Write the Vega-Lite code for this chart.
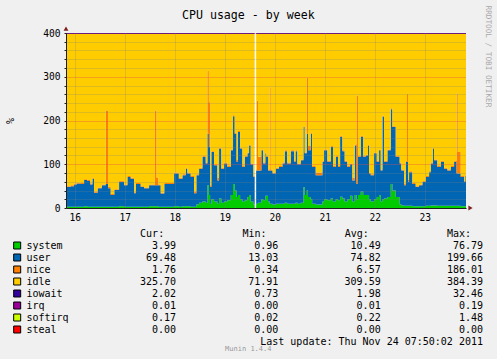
{
  "$schema": "https://vega.github.io/schema/vega-lite/v6.json",
  "autosize": {"type": "none"},
  "padding": {"left": 66, "top": 33, "right": 431, "bottom": 326},
  "background": "#F0F0F0",
  "bounds": "flush",
  "spacing": 25.5,
  "config": {"view": {"stroke": null}, "font": "DejaVu Sans Mono"},
  "datasets": {
    "cpu": [
      {"h":7.83,"system":3,"user":45,"nice":2,"idle":348,"iowait":2},
      {"h":10,"system":3,"user":47,"nice":2,"idle":346,"iowait":2},
      {"h":11.7,"system":3,"user":51,"nice":2,"idle":342,"iowait":2},
      {"h":13,"system":3,"user":53,"nice":2,"idle":340,"iowait":2},
      {"h":15,"system":3,"user":52,"nice":2,"idle":341,"iowait":2},
      {"h":16.5,"system":4,"user":60,"nice":2,"idle":332,"iowait":2},
      {"h":18,"system":3,"user":59,"nice":2,"idle":334,"iowait":2},
      {"h":19.5,"system":3,"user":51,"nice":2,"idle":342,"iowait":2},
      {"h":20.5,"system":3,"user":64,"nice":2,"idle":329,"iowait":2},
      {"h":21.3,"system":3,"user":32,"nice":3,"idle":360,"iowait":2},
      {"h":23,"system":3,"user":42,"nice":2,"idle":351,"iowait":2},
      {"h":25,"system":3,"user":49,"nice":2,"idle":344,"iowait":2},
      {"h":26.9,"system":3,"user":52,"nice":168,"idle":175,"iowait":2},
      {"h":28,"system":3,"user":42,"nice":4,"idle":349,"iowait":2},
      {"h":29.3,"system":3,"user":27,"nice":2,"idle":366,"iowait":2},
      {"h":31,"system":3,"user":38,"nice":2,"idle":355,"iowait":2},
      {"h":33.3,"system":4,"user":56,"nice":2,"idle":336,"iowait":2},
      {"h":35.7,"system":3,"user":49,"nice":2,"idle":344,"iowait":2},
      {"h":37.3,"system":3,"user":68,"nice":2,"idle":325,"iowait":2},
      {"h":38.9,"system":3,"user":64,"nice":2,"idle":329,"iowait":2},
      {"h":40.5,"system":3,"user":31,"nice":2,"idle":362,"iowait":2},
      {"h":41.3,"system":3,"user":52,"nice":2,"idle":341,"iowait":2},
      {"h":43.7,"system":3,"user":45,"nice":2,"idle":348,"iowait":2},
      {"h":45.3,"system":3,"user":42,"nice":2,"idle":351,"iowait":2},
      {"h":47.7,"system":4,"user":48,"nice":2,"idle":344,"iowait":2},
      {"h":50.5,"system":4,"user":48,"nice":171,"idle":175,"iowait":2},
      {"h":51.3,"system":4,"user":48,"nice":18,"idle":328,"iowait":2},
      {"h":52.2,"system":3,"user":49,"nice":2,"idle":344,"iowait":2},
      {"h":53.3,"system":3,"user":30,"nice":2,"idle":363,"iowait":2},
      {"h":55,"system":3,"user":52,"nice":2,"idle":341,"iowait":2},
      {"h":59.7,"system":4,"user":75,"nice":2,"idle":317,"iowait":2},
      {"h":62,"system":3,"user":64,"nice":2,"idle":329,"iowait":2},
      {"h":63.7,"system":4,"user":71,"nice":2,"idle":321,"iowait":2},
      {"h":65.3,"system":4,"user":86,"nice":2,"idle":306,"iowait":2},
      {"h":66.1,"system":4,"user":75,"nice":2,"idle":317,"iowait":2},
      {"h":67.7,"system":3,"user":68,"nice":2,"idle":325,"iowait":2},
      {"h":69.3,"system":3,"user":31,"nice":4,"idle":360,"iowait":2},
      {"h":70.4,"system":8,"user":67,"nice":2,"idle":321,"iowait":2},
      {"h":71.7,"system":12,"user":78,"nice":2,"idle":306,"iowait":2},
      {"h":73.3,"system":15,"user":102,"nice":2,"idle":279,"iowait":2},
      {"h":74.9,"system":12,"user":90,"nice":2,"idle":294,"iowait":2},
      {"h":75.7,"system":52,"user":118,"nice":144,"idle":84,"iowait":2},
      {"h":76.4,"system":30,"user":110,"nice":102,"idle":156,"iowait":2},
      {"h":77,"system":10,"user":38,"nice":4,"idle":346,"iowait":2},
      {"h":77.6,"system":20,"user":108,"nice":2,"idle":268,"iowait":2},
      {"h":78.9,"system":15,"user":83,"nice":2,"idle":298,"iowait":2},
      {"h":80.5,"system":10,"user":53,"nice":6,"idle":329,"iowait":2},
      {"h":81.3,"system":22,"user":114,"nice":2,"idle":260,"iowait":2},
      {"h":82.4,"system":12,"user":78,"nice":2,"idle":306,"iowait":2},
      {"h":83.7,"system":15,"user":87,"nice":2,"idle":294,"iowait":2},
      {"h":85.3,"system":18,"user":76,"nice":2,"idle":302,"iowait":2},
      {"h":86.9,"system":30,"user":102,"nice":2,"idle":264,"iowait":2},
      {"h":88,"system":55,"user":155,"nice":2,"idle":186,"iowait":2},
      {"h":88.8,"system":40,"user":130,"nice":2,"idle":226,"iowait":2},
      {"h":89.7,"system":25,"user":81,"nice":4,"idle":288,"iowait":2},
      {"h":90.4,"system":30,"user":144,"nice":2,"idle":222,"iowait":2},
      {"h":91.4,"system":20,"user":116,"nice":2,"idle":260,"iowait":2},
      {"h":92.5,"system":15,"user":79,"nice":2,"idle":302,"iowait":2},
      {"h":93.6,"system":18,"user":99,"nice":2,"idle":279,"iowait":2},
      {"h":94.9,"system":25,"user":100,"nice":2,"idle":271,"iowait":2},
      {"h":95.7,"system":30,"user":113,"nice":2,"idle":253,"iowait":2},
      {"h":96.5,"system":15,"user":85,"nice":2,"idle":296,"iowait":2},
      {"h":97.8,"system":8,"user":63,"nice":2,"idle":325,"iowait":2},
      {"h":99,"system":10,"user":76,"nice":2,"idle":310,"iowait":2},
      {"h":99.4,"system":10,"user":76,"nice":159,"idle":153,"iowait":2},
      {"h":100,"system":12,"user":74,"nice":31,"idle":281,"iowait":2},
      {"h":101.6,"system":20,"user":112,"nice":2,"idle":264,"iowait":2},
      {"h":102.5,"system":18,"user":84,"nice":2,"idle":294,"iowait":2},
      {"h":103.5,"system":28,"user":97,"nice":2,"idle":271,"iowait":2},
      {"h":104,"system":28,"user":89,"nice":2,"idle":279,"iowait":2},
      {"h":104.8,"system":15,"user":71,"nice":2,"idle":310,"iowait":2},
      {"h":105.6,"system":10,"user":76,"nice":190,"idle":122,"iowait":2},
      {"h":106.1,"system":10,"user":76,"nice":2,"idle":310,"iowait":2},
      {"h":107,"system":8,"user":71,"nice":2,"idle":317,"iowait":2},
      {"h":108.5,"system":10,"user":80,"nice":2,"idle":306,"iowait":2},
      {"h":110,"system":10,"user":84,"nice":2,"idle":302,"iowait":2},
      {"h":111.7,"system":10,"user":92,"nice":2,"idle":294,"iowait":2},
      {"h":112.8,"system":12,"user":118,"nice":2,"idle":266,"iowait":2},
      {"h":114,"system":10,"user":92,"nice":2,"idle":294,"iowait":2},
      {"h":115.7,"system":10,"user":120,"nice":2,"idle":266,"iowait":2},
      {"h":117.3,"system":10,"user":96,"nice":2,"idle":290,"iowait":2},
      {"h":118,"system":12,"user":118,"nice":2,"idle":266,"iowait":2},
      {"h":118.9,"system":10,"user":90,"nice":2,"idle":296,"iowait":2},
      {"h":120.5,"system":12,"user":97,"nice":2,"idle":287,"iowait":2},
      {"h":121.8,"system":48,"user":137,"nice":2,"idle":211,"iowait":2},
      {"h":122.4,"system":30,"user":95,"nice":2,"idle":271,"iowait":2},
      {"h":123.4,"system":40,"user":130,"nice":128,"idle":100,"iowait":2},
      {"h":124,"system":25,"user":107,"nice":10,"idle":256,"iowait":2},
      {"h":125.3,"system":20,"user":150,"nice":2,"idle":226,"iowait":2},
      {"h":126,"system":10,"user":84,"nice":2,"idle":302,"iowait":2},
      {"h":127.7,"system":8,"user":67,"nice":6,"idle":317,"iowait":2},
      {"h":130.9,"system":15,"user":91,"nice":2,"idle":290,"iowait":2},
      {"h":131.7,"system":20,"user":112,"nice":2,"idle":264,"iowait":2},
      {"h":133.3,"system":18,"user":88,"nice":2,"idle":290,"iowait":2},
      {"h":134.9,"system":22,"user":118,"nice":2,"idle":256,"iowait":2},
      {"h":136,"system":15,"user":79,"nice":2,"idle":302,"iowait":2},
      {"h":137.3,"system":20,"user":97,"nice":2,"idle":279,"iowait":2},
      {"h":138.4,"system":18,"user":76,"nice":2,"idle":302,"iowait":2},
      {"h":139.4,"system":26,"user":137,"nice":2,"idle":233,"iowait":2},
      {"h":140.5,"system":22,"user":108,"nice":2,"idle":266,"iowait":2},
      {"h":141.6,"system":15,"user":91,"nice":2,"idle":290,"iowait":2},
      {"h":142.9,"system":20,"user":74,"nice":2,"idle":302,"iowait":2},
      {"h":144.2,"system":28,"user":72,"nice":2,"idle":296,"iowait":2},
      {"h":145.3,"system":15,"user":48,"nice":6,"idle":329,"iowait":2},
      {"h":146.4,"system":30,"user":113,"nice":2,"idle":253,"iowait":2},
      {"h":147.3,"system":20,"user":35,"nice":202,"idle":141,"iowait":2},
      {"h":148,"system":30,"user":87,"nice":2,"idle":279,"iowait":2},
      {"h":149.3,"system":38,"user":125,"nice":2,"idle":233,"iowait":2},
      {"h":150.5,"system":30,"user":87,"nice":2,"idle":279,"iowait":2},
      {"h":151.7,"system":30,"user":90,"nice":2,"idle":276,"iowait":2},
      {"h":152.8,"system":30,"user":113,"nice":2,"idle":253,"iowait":2},
      {"h":153.3,"system":20,"user":59,"nice":2,"idle":317,"iowait":2},
      {"h":154.1,"system":15,"user":60,"nice":2,"idle":321,"iowait":2},
      {"h":155.7,"system":20,"user":105,"nice":2,"idle":271,"iowait":2},
      {"h":157,"system":25,"user":81,"nice":2,"idle":290,"iowait":2},
      {"h":158.1,"system":30,"user":102,"nice":2,"idle":264,"iowait":2},
      {"h":158.9,"system":15,"user":71,"nice":2,"idle":310,"iowait":2},
      {"h":159.7,"system":20,"user":189,"nice":2,"idle":187,"iowait":2},
      {"h":160.5,"system":22,"user":84,"nice":2,"idle":290,"iowait":2},
      {"h":162.1,"system":25,"user":107,"nice":2,"idle":264,"iowait":2},
      {"h":163.7,"system":55,"user":171,"nice":2,"idle":170,"iowait":2},
      {"h":164.5,"system":40,"user":145,"nice":2,"idle":211,"iowait":2},
      {"h":166.1,"system":25,"user":92,"nice":2,"idle":279,"iowait":2},
      {"h":168,"system":8,"user":94,"nice":2,"idle":294,"iowait":2},
      {"h":168.8,"system":6,"user":80,"nice":2,"idle":310,"iowait":2},
      {"h":170.1,"system":5,"user":47,"nice":4,"idle":342,"iowait":2},
      {"h":170.9,"system":5,"user":101,"nice":2,"idle":290,"iowait":2},
      {"h":171.5,"system":5,"user":101,"nice":155,"idle":137,"iowait":2},
      {"h":172,"system":5,"user":55,"nice":4,"idle":334,"iowait":2},
      {"h":172.5,"system":5,"user":77,"nice":2,"idle":314,"iowait":2},
      {"h":174.1,"system":4,"user":51,"nice":2,"idle":341,"iowait":2},
      {"h":175.7,"system":4,"user":44,"nice":2,"idle":348,"iowait":2},
      {"h":177.3,"system":4,"user":48,"nice":2,"idle":344,"iowait":2},
      {"h":178.9,"system":4,"user":56,"nice":2,"idle":336,"iowait":2},
      {"h":180.5,"system":5,"user":66,"nice":2,"idle":325,"iowait":2},
      {"h":182.1,"system":5,"user":77,"nice":2,"idle":314,"iowait":2},
      {"h":182.9,"system":6,"user":96,"nice":2,"idle":294,"iowait":2},
      {"h":184,"system":6,"user":130,"nice":2,"idle":260,"iowait":2},
      {"h":184.5,"system":6,"user":103,"nice":2,"idle":287,"iowait":2},
      {"h":186.1,"system":5,"user":89,"nice":2,"idle":302,"iowait":2},
      {"h":187.7,"system":5,"user":101,"nice":2,"idle":290,"iowait":2},
      {"h":189.3,"system":5,"user":85,"nice":2,"idle":306,"iowait":2},
      {"h":190.9,"system":5,"user":81,"nice":2,"idle":310,"iowait":2},
      {"h":192.5,"system":5,"user":89,"nice":2,"idle":302,"iowait":2},
      {"h":194.1,"system":5,"user":101,"nice":2,"idle":290,"iowait":2},
      {"h":195.3,"system":5,"user":74,"nice":182,"idle":137,"iowait":2},
      {"h":195.9,"system":5,"user":74,"nice":49,"idle":270,"iowait":2},
      {"h":197.3,"system":4,"user":67,"nice":2,"idle":325,"iowait":2},
      {"h":198.9,"system":4,"user":56,"nice":2,"idle":336,"iowait":2},
      {"h":199.5,"system":4,"user":69,"nice":2,"idle":323,"iowait":2},
      {"h":199.83,"system":4,"user":69,"nice":2,"idle":323,"iowait":2}
    ],
    "legend": [
      {"name":"system","Cur":"3.99","Min":"0.96","Avg":"10.49","Max":"76.79"},
      {"name":"user","Cur":"69.48","Min":"13.03","Avg":"74.82","Max":"199.66"},
      {"name":"nice","Cur":"1.76","Min":"0.34","Avg":"6.57","Max":"186.01"},
      {"name":"idle","Cur":"325.70","Min":"71.91","Avg":"309.59","Max":"384.39"},
      {"name":"iowait","Cur":"2.02","Min":"0.73","Avg":"1.98","Max":"32.46"},
      {"name":"irq","Cur":"0.01","Min":"0.00","Avg":"0.01","Max":"0.19"},
      {"name":"softirq","Cur":"0.17","Min":"0.02","Avg":"0.22","Max":"1.48"},
      {"name":"steal","Cur":"0.00","Min":"0.00","Avg":"0.00","Max":"0.00"}
    ]
  },
  "vconcat": [
    {
      "width": 400,
      "height": 175,
      "title": {"text": "CPU usage - by week", "font": "DejaVu Sans Mono", "fontSize": 11.6, "fontWeight": "normal", "color": "#000000", "anchor": "middle", "frame": "group", "baseline": "alphabetic", "dx": -17.7, "dy": 36, "offset": 10},
      "layer": [
        {
          "data": {"name": "cpu"},
          "transform": [
            {"fold": ["system", "user", "nice", "idle", "iowait"], "as": ["series", "value"]},
            {"window": [{"op": "row_number", "as": "ord"}], "groupby": ["h"]}
          ],
          "mark": {"type": "area", "interpolate": "step-after"},
          "encoding": {
            "x": {
              "field": "h", "type": "quantitative",
              "scale": {"domain": [7.83, 199.83], "nice": false, "zero": false},
              "axis": {
                "title": null,
                "values": [12,18,24,30,36,42,48,54,60,66,72,78,84,90,96,102,108,114,120,126,132,138,144,150,156,162,168,174,180,186,192,198],
                "labelExpr": "datum.value % 24 === 12 ? '' + (16 + floor(datum.value / 24)) : ''",
                "labelFont": "DejaVu Sans Mono", "labelFontSize": 9.6, "labelColor": "#000000",
                "labelPadding": 1.5, "labelOverlap": false, "labelFlush": false, "labelBound": false,
                "tickSize": 3, "tickColor": "#E24E4E",
                "tickOpacity": {"condition": {"test": "datum.value % 24 === 0", "value": 1}, "value": 0},
                "domainColor": "#1F1F1F",
                "grid": true, "gridDash": [1, 1],
                "gridColor": {"condition": {"test": "datum.value % 24 === 0", "value": "#E24E4E"}, "value": "#808080"},
                "gridOpacity": {"condition": {"test": "datum.value % 24 === 0", "value": 0.7}, "value": 0.5},
                "zindex": 1
              }
            },
            "y": {
              "field": "value", "type": "quantitative", "stack": "zero",
              "scale": {"domain": [0, 400], "nice": false},
              "axis": {
                "values": [0,20,40,60,80,100,120,140,160,180,200,220,240,260,280,300,320,340,360,380,400],
                "labelExpr": "datum.value % 100 === 0 ? datum.label : ''",
                "labelFont": "DejaVu Sans Mono", "labelFontSize": 9.6, "labelColor": "#000000",
                "labelPadding": 4, "labelOverlap": false, "labelFlush": false, "labelBound": false,
                "tickSize": 2, "tickColor": "#1F1F1F",
                "domainColor": "#1F1F1F",
                "grid": true, "gridDash": [1, 1],
                "gridColor": {"condition": {"test": "datum.value % 100 === 0", "value": "#E24E4E"}, "value": "#808080"},
                "gridOpacity": {"condition": {"test": "datum.value % 100 === 0", "value": 0.7}, "value": 0.5},
                "title": "%", "titleFont": "DejaVu Sans Mono", "titleFontSize": 10, "titleFontWeight": "normal", "titleColor": "#000000",
                "titleAngle": 270, "titleX": -56, "titleY": 87.5, "titleAlign": "center", "titleBaseline": "middle",
                "zindex": 1
              }
            },
            "color": {
              "field": "series", "type": "nominal",
              "scale": {"domain": ["system", "user", "nice", "idle", "iowait", "irq", "softirq", "steal"], "range": ["#00CC00", "#0066B3", "#FF8000", "#FFCC00", "#330099", "#990099", "#CCFF00", "#FF0000"]},
              "legend": null
            },
            "order": {"field": "ord", "type": "quantitative", "sort": "ascending"}
          }
        },
        {
          "data": {"values": [{"h": 98.75}]},
          "mark": {"type": "rule", "color": "#FFFFFF", "strokeWidth": 1.5},
          "encoding": {
            "x": {"field": "h", "type": "quantitative"},
            "y": {"datum": 0, "axis": null},
            "y2": {"datum": 400}
          }
        },
        {
          "data": {"values": [{"h": 7.83, "v": 410, "dir": "up"}, {"h": 202, "v": 0, "dir": "right"}]},
          "mark": {"type": "point", "filled": true, "color": "#7F1F1F", "size": 24, "opacity": 1},
          "encoding": {
            "x": {"field": "h", "type": "quantitative"},
            "y": {
              "field": "v", "type": "quantitative",
              "axis": {
                "orient": "right", "labels": false, "ticks": false, "domain": false, "grid": false,
                "title": "RRDTOOL / TOBI OETIKER", "titleFont": "DejaVu Sans Mono", "titleFontSize": 7.7, "titleFontWeight": "normal", "titleColor": "#A8A8A8",
                "titleAngle": 90, "titleAlign": "left", "titleBaseline": "middle", "titleX": 21.5, "titleY": -28
              }
            },
            "shape": {"field": "dir", "type": "nominal", "scale": {"domain": ["up", "right"], "range": ["triangle-up", "triangle-right"]}, "legend": null}
          }
        }
      ],
      "resolve": {"axis": {"y": "independent"}}
    },
    {
      "width": 417,
      "height": 108,
      "layer": [
        {
          "data": {"values": [{"col": "Cur", "label": "Cur:"}, {"col": "Min", "label": "Min:"}, {"col": "Avg", "label": "Avg:"}, {"col": "Max", "label": "Max:"}]},
          "mark": {"type": "text", "align": "left", "baseline": "middle", "dx": -36, "font": "DejaVu Sans Mono", "fontSize": 10, "color": "#000000"},
          "encoding": {
            "x": {"field": "col", "type": "nominal", "scale": {"type": "point", "domain": ["Cur", "Min", "Avg", "Max"], "padding": 0.538, "align": 1}, "axis": null},
            "y": {"datum": "header", "type": "nominal", "scale": {"type": "point", "domain": ["header", "system", "user", "nice", "idle", "iowait", "irq", "softirq", "steal", "update"], "padding": 0}, "axis": null},
            "text": {"field": "label"}
          }
        },
        {
          "data": {"name": "legend"},
          "mark": {"type": "point", "shape": "square", "filled": true, "size": 49, "stroke": "#000000", "strokeWidth": 1, "opacity": 1},
          "encoding": {
            "x": {"datum": "Cur", "type": "nominal"},
            "xOffset": {"value": -158.9},
            "y": {"field": "name", "type": "nominal"},
            "fill": {
              "field": "name", "type": "nominal",
              "scale": {"domain": ["system", "user", "nice", "idle", "iowait", "irq", "softirq", "steal"], "range": ["#00CC00", "#0066B3", "#FF8000", "#FFCC00", "#330099", "#990099", "#CCFF00", "#FF0000"]},
              "legend": null
            }
          }
        },
        {
          "data": {"name": "legend"},
          "mark": {"type": "text", "align": "left", "baseline": "middle", "dx": -149.6, "font": "DejaVu Sans Mono", "fontSize": 10, "color": "#000000"},
          "encoding": {
            "x": {"datum": "Cur", "type": "nominal"},
            "y": {"field": "name", "type": "nominal"},
            "text": {"field": "name"}
          }
        },
        {
          "data": {"name": "legend"},
          "transform": [{"fold": ["Cur", "Min", "Avg", "Max"], "as": ["col", "val"]}],
          "mark": {"type": "text", "align": "right", "baseline": "middle", "font": "DejaVu Sans Mono", "fontSize": 10, "color": "#000000"},
          "encoding": {
            "x": {"field": "col", "type": "nominal"},
            "y": {"field": "name", "type": "nominal"},
            "text": {"field": "val"}
          }
        },
        {
          "data": {"values": [{"label": "Last update: Thu Nov 24 07:50:02 2011"}]},
          "mark": {"type": "text", "align": "right", "baseline": "middle", "font": "DejaVu Sans Mono", "fontSize": 10, "color": "#000000"},
          "encoding": {
            "x": {"datum": "Max", "type": "nominal"},
            "y": {"datum": "update", "type": "nominal"},
            "text": {"field": "label"}
          }
        },
        {
          "data": {"values": [{"label": "Munin 1.4.4"}]},
          "mark": {"type": "text", "align": "center", "baseline": "middle", "dx": 72.2, "dy": 7, "font": "DejaVu Sans Mono", "fontSize": 7, "color": "#999999"},
          "encoding": {
            "x": {"datum": "Cur", "type": "nominal"},
            "y": {"datum": "update", "type": "nominal"},
            "text": {"field": "label"}
          }
        }
      ]
    }
  ]
}
